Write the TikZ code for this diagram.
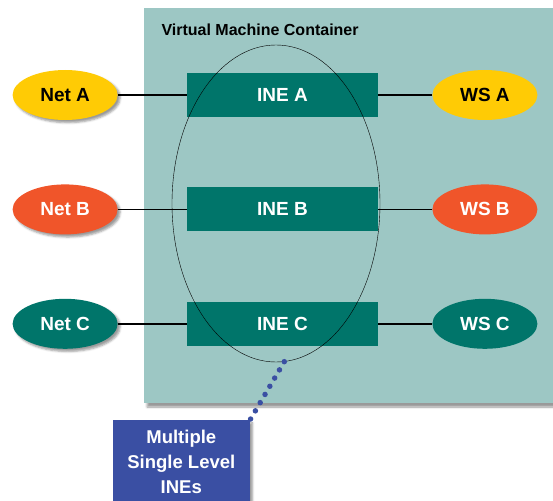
\documentclass[tikz,border=0pt]{standalone}
\usepackage{fontspec}
\setmainfont{Liberation Sans}
\usetikzlibrary{positioning,shapes.geometric,shadows.blur}
\definecolor{vmbg}{HTML}{9DC7C4}
\definecolor{inegreen}{HTML}{00756A}
\definecolor{netyellow}{HTML}{FFCB05}
\definecolor{netred}{HTML}{F0552A}
\definecolor{noteblue}{HTML}{3A4FA3}
\tikzset{
  ine/.style={fill=inegreen, text=white, minimum width=191pt, minimum height=44pt, inner sep=0pt,
    font=\bfseries\fontsize{19}{21}\selectfont},
  host/.style={ellipse, minimum width=105pt, minimum height=50pt, inner sep=0pt,
    font=\bfseries\fontsize{19}{21}\selectfont},
  link/.style={line width=1.6pt},
}

\begin{document}
\begin{tikzpicture}[x=1pt,y=-1pt]
    \useasboundingbox (0,0) rectangle (553,500);
    % container
    \fill[vmbg, blur shadow={shadow xshift=3pt, shadow yshift=-4pt}] (144,8) rectangle (570,403);
    \node[anchor=west, font=\bfseries\fontsize{16}{18}\selectfont] (title) at (158,30) {Virtual Machine Container};

    \node[ine] (ineA) at (282.5,95) {INE A};
    \node[ine, below=70pt of ineA] (ineB) {INE B};
    \node[ine, below=70pt of ineB] (ineC) {INE C};

    \node[host, fill=netyellow, blur shadow, left=69pt of ineA] (netA) {Net A};
    \node[host, fill=netred, text=white, blur shadow, left=69pt of ineB] (netB) {Net B};
    \node[host, fill=inegreen, text=white, blur shadow, left=69pt of ineC] (netC) {Net C};
    \node[host, fill=netyellow, right=54pt of ineA] (wsA) {WS A};
    \node[host, fill=netred, text=white, right=54pt of ineB] (wsB) {WS B};
    \node[host, fill=inegreen, text=white, right=54pt of ineC] (wsC) {WS C};

    \draw[link] (netA) -- (ineA);
    \draw[link] (ineA) -- (wsA);
    \draw[link] (netB) -- (ineB);
    \draw[link] (ineB) -- (wsB);
    \draw[link] (netC) -- (ineC);
    \draw[link] (ineC) -- (wsC);

    % the group of INEs
    \node[draw, ellipse, thin, minimum width=208pt, minimum height=317pt] (group) at (276,203.5) {};

    \node[fill=noteblue, text=white, blur shadow, anchor=north east, minimum width=137pt, minimum height=84pt,
      align=center, font=\bfseries\fontsize{18.5}{25}\selectfont] (note) at (250,420) {Multiple\\Single Level\\INEs};
    \draw[noteblue, line width=5.5pt, line cap=round, dash pattern=on 0pt off 9.5pt] (group.-87) -- (note.north east);
\end{tikzpicture}
\end{document}
